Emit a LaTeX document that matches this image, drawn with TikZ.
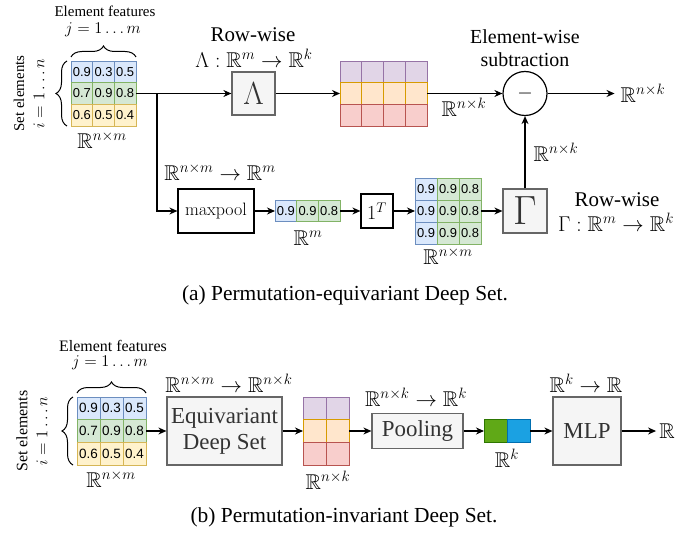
\documentclass[tikz,border=0pt]{standalone}
\usepackage{fix-cm}
\usepackage{amsmath,amssymb}
\DeclareFontFamily{U}{msb}{}
\DeclareFontShape{U}{msb}{m}{n}{<-> msbm10}{}
\usepackage[no-math]{fontspec}
\setmainfont{Liberation Serif}
\newfontfamily\numfont{Liberation Sans}
\usetikzlibrary{arrows.meta,decorations.pathreplacing}
\definecolor{blueF}{HTML}{DAE8FC}\definecolor{blueS}{HTML}{6C8EBF}
\definecolor{greenF}{HTML}{D5E8D4}\definecolor{greenS}{HTML}{82B366}
\definecolor{yelF}{HTML}{FFF2CC}\definecolor{yelS}{HTML}{D6B656}
\definecolor{purF}{HTML}{E1D5E7}\definecolor{purS}{HTML}{9673A6}
\definecolor{oraF}{HTML}{FFE6CC}\definecolor{oraS}{HTML}{D79B00}
\definecolor{redF}{HTML}{F8CECC}\definecolor{redS}{HTML}{B85450}
\definecolor{grayF}{HTML}{F5F5F5}\definecolor{grayS}{HTML}{666666}\definecolor{grayT}{HTML}{333333}
\definecolor{vgF}{HTML}{60A917}\definecolor{vgS}{HTML}{2D7600}
\definecolor{vbF}{HTML}{1BA1E2}\definecolor{vbS}{HTML}{006EAF}
\tikzset{
  arr/.style={line width=1.2bp,-{Stealth[length=8bp,width=7bp]}},
  cell/.style={minimum width=21.67bp,minimum height=21.67bp,inner sep=0pt,outer sep=0pt,line width=0.9bp,font=\numfont\fontsize{13}{13}\selectfont},
  cellb/.style={cell,minimum width=23bp,minimum height=22.67bp,font=\numfont\fontsize{13.5}{13.5}\selectfont},
  bluec/.style={fill=blueF,draw=blueS},
  greenc/.style={fill=greenF,draw=greenS},
  yelc/.style={fill=yelF,draw=yelS},
  purc/.style={fill=purF,draw=purS},
  orac/.style={fill=oraF,draw=oraS},
  redc/.style={fill=redF,draw=redS},
  graybox/.style={draw=grayS,fill=grayF,text=grayT,line width=1.2bp,inner sep=0pt},
  blackbox/.style={draw=black,fill=white,line width=1.2bp,inner sep=0pt},
  mlab/.style={font=\fontsize{21.5}{24}\selectfont,inner sep=1bp},
  mlabs/.style={font=\fontsize{16.5}{18}\selectfont,inner sep=0pt},
  txtA/.style={font=\fontsize{15}{17}\selectfont,inner sep=0pt},
  txtB/.style={font=\fontsize{16}{18}\selectfont,inner sep=0pt},
  rw/.style={font=\fontsize{21}{23}\selectfont,inner sep=0pt},
  ew/.style={font=\fontsize{20}{23}\selectfont,inner sep=0pt,align=center},
  boxtxt/.style={font=\fontsize{23}{26}\selectfont},
  captxt/.style={font=\fontsize{21.5}{24}\selectfont,inner sep=0pt},
  brc/.style={decorate,decoration={brace,amplitude=11bp},line width=1bp},
}
\begin{document}
\begin{tikzpicture}[x=1bp,y=-1bp]
\useasboundingbox (0,0) rectangle (699,533);
% ================= (a) =================
\node[txtA] (efA) at (105,11) {Element features};
\node[mlabs] (jA) at (103,30) {$j=1\ldots m$};
\draw[brc] (71,57) -- (136,57);
\draw[brc] (67,126) -- (67,61);
\node[txtA,rotate=90] (seA) at (19,93.5) {Set elements};
\node[mlabs,rotate=90] (iA) at (39,93.5) {$i=1\ldots n$};
\foreach \c/\v in {1/0.9,2/0.3,3/0.5}
  \node[cell,bluec] (a1\c) at ({71+(\c-0.5)*21.67},71.83) {\v};
\foreach \c/\v in {1/0.7,2/0.9,3/0.8}
  \node[cell,greenc] (a2\c) at ({71+(\c-0.5)*21.67},93.5) {\v};
\foreach \c/\v in {1/0.6,2/0.5,3/0.4}
  \node[cell,yelc] (a3\c) at ({71+(\c-0.5)*21.67},115.17) {\v};
\node[mlab] (rA) at (102,140) {$\mathbb{R}^{n\times m}$};
\coordinate (jnA) at (157,93.5);
% Lambda
\node[graybox,minimum size=43bp,font=\fontsize{32}{32}\selectfont] (lam) at (253.5,93.5) {$\Lambda$};
\node[rw] (rwA) at (253,35) {Row-wise};
\node[mlab] (lamlab) at (254,58) {$\Lambda:\mathbb{R}^m\to\mathbb{R}^k$};
% Lambda output matrix
\foreach \c in {1,...,4}{
  \node[cell,minimum width=21.75bp,purc] (l1\c) at ({340+(\c-0.5)*21.75},71.83) {};
  \node[cell,minimum width=21.75bp,orac] (l2\c) at ({340+(\c-0.5)*21.75},93.5) {};
  \node[cell,minimum width=21.75bp,redc] (l3\c) at ({340+(\c-0.5)*21.75},115.17) {};
}
\node[mlab] (rlA) at (464,107) {$\mathbb{R}^{n\times k}$};
% subtraction
\node[draw,circle,minimum size=44bp,line width=1.2bp,inner sep=0pt,font=\fontsize{20}{20}\selectfont] (sub) at (525,93.5) {$-$};
\node[ew] (ewA) at (525,48) {Element-wise\\subtraction};
\node[mlab,inner sep=0pt] (outA) at (643,93.5) {$\mathbb{R}^{n\times k}$};
% maxpool branch
\node[blackbox,minimum width=76bp,minimum height=44bp,font=\fontsize{18}{18}\selectfont] (mp) at (216,211) {$\mathrm{maxpool}$};
\node[mlab] (mpl) at (220,172) {$\mathbb{R}^{n\times m}\to\mathbb{R}^m$};
\node[cell,minimum height=21bp,bluec] (v1) at (285.83,211) {0.9};
\node[cell,minimum height=21bp,greenc] (v2) at (307.5,211) {0.9};
\node[cell,minimum height=21bp,greenc] (v3) at (329.17,211) {0.8};
\node[mlab] (vl) at (308,238) {$\mathbb{R}^m$};
\node[blackbox,minimum width=32bp,minimum height=34bp,font=\fontsize{20}{20}\selectfont] (oneT) at (377,211) {$1^T$};
\foreach \r/\y in {1/189,2/211,3/233}{
  \node[cell,minimum width=22bp,minimum height=22bp,bluec] (m\r1) at (426,\y) {0.9};
  \node[cell,minimum width=22bp,minimum height=22bp,greenc] (m\r2) at (448,\y) {0.9};
  \node[cell,minimum width=22bp,minimum height=22bp,greenc] (m\r3) at (470,\y) {0.8};
}
\node[mlab] (ml) at (448,256) {$\mathbb{R}^{n\times m}$};
\node[graybox,minimum size=44bp,font=\fontsize{41}{41}\selectfont] (gam) at (525,211) {$\Gamma$};
\node[rw] (rwG) at (617,200) {Row-wise};
\node[mlab] (gl) at (616,222) {$\Gamma:\mathbb{R}^m\to\mathbb{R}^k$};
\node[mlab] (gvl) at (556,152) {$\mathbb{R}^{n\times k}$};
% connectors (a)
\draw[arr] (a23.east) -- (lam.west);
\draw[arr] (jnA) |- (mp.west);
\draw[arr] (lam.east) -- (l21.west);
\draw[arr] (l24.east) -- (sub.west);
\draw[arr] (sub.east) -- ([xshift=-6bp]outA.west);
\draw[arr] (mp.east) -- (v1.west);
\draw[arr] (v3.east) -- (oneT.west);
\draw[arr] (oneT.east) -- (m21.west);
\draw[arr] (m23.east) -- (gam.west);
\draw[arr] (gam.north) -- (sub.south);
\node[captxt] (capA) at (345,295) {(a) Permutation-equivariant Deep Set.};
% ================= (b) =================
\node[txtB] (efB) at (113,346) {Element features};
\node[mlabs] (jB) at (110,363) {$j=1\ldots m$};
\draw[brc] (77,393) -- (146,393);
\draw[brc] (73,465) -- (73,397);
\node[txtB,rotate=90] (seB) at (22,431) {Set elements};
\node[mlabs,rotate=90] (iB) at (42,431) {$i=1\ldots n$};
\foreach \c/\v in {1/0.9,2/0.3,3/0.5}
  \node[cellb,bluec] (b1\c) at ({77+(\c-0.5)*23},408.33) {\v};
\foreach \c/\v in {1/0.7,2/0.9,3/0.8}
  \node[cellb,greenc] (b2\c) at ({77+(\c-0.5)*23},431) {\v};
\foreach \c/\v in {1/0.6,2/0.5,3/0.4}
  \node[cellb,yelc] (b3\c) at ({77+(\c-0.5)*23},453.67) {\v};
\node[mlab] (rB) at (111,479) {$\mathbb{R}^{n\times m}$};
\node[graybox,boxtxt,minimum width=115bp,minimum height=68bp,align=center] (eds) at (224.5,431) {Equivariant\\Deep Set};
\node[mlab] (edsl) at (229,383) {$\mathbb{R}^{n\times m}\to\mathbb{R}^{n\times k}$};
\foreach \c in {1,2}{
  \node[cellb,purc] (c1\c) at ({303+(\c-0.5)*23},408.33) {};
  \node[cellb,orac] (c2\c) at ({303+(\c-0.5)*23},431) {};
  \node[cellb,redc] (c3\c) at ({303+(\c-0.5)*23},453.67) {};
}
\node[mlab] (crl) at (328,480) {$\mathbb{R}^{n\times k}$};
\node[graybox,boxtxt,minimum width=91bp,minimum height=35bp] (pool) at (417.5,431) {Pooling};
\node[mlab] (pooll) at (416,397) {$\mathbb{R}^{n\times k}\to\mathbb{R}^k$};
\node[cell,minimum width=23bp,minimum height=23bp,fill=vgF,draw=vgS] (g1) at (495.5,431) {};
\node[cell,minimum width=23bp,minimum height=23bp,fill=vbF,draw=vbS] (g2) at (518.5,431) {};
\node[mlab] (gkl) at (507,458) {$\mathbb{R}^k$};
\node[graybox,boxtxt,minimum width=68bp,minimum height=68bp] (mlp) at (587,431) {MLP};
\node[mlab] (mlpl) at (586,383) {$\mathbb{R}^k\to\mathbb{R}$};
\node[mlab,inner sep=3bp] (outB) at (667,431) {$\mathbb{R}$};
% connectors (b)
\draw[arr] (b23.east) -- (eds.west);
\draw[arr] (eds.east) -- (c21.west);
\draw[arr] (c22.east) -- (pool.west);
\draw[arr] (pool.east) -- (g1.west);
\draw[arr] (g2.east) -- (mlp.west);
\draw[arr] (mlp.east) -- (outB.west);
\node[captxt] (capB) at (344,517) {(b) Permutation-invariant Deep Set.};
\end{tikzpicture}
\end{document}
